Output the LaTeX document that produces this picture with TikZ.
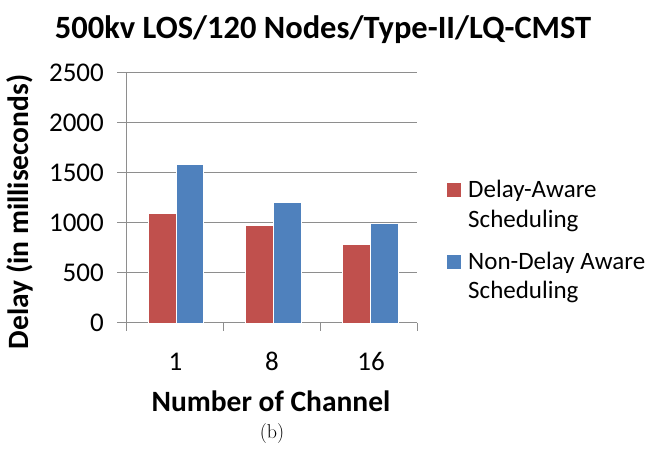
\documentclass[tikz,border=0pt]{standalone}
\usepackage{fontspec}
\newfontfamily\chartfont{Carlito}
\usetikzlibrary{positioning}
\definecolor{delayred}{HTML}{C0504D}
\definecolor{nodelayblue}{HTML}{4F81BD}
\definecolor{gridgray}{HTML}{8E8E8E}

\begin{document}
\begin{tikzpicture}[
    x=1pt, y=-1pt,
    bar/.style={draw=white, line width=0.3pt},
    gridline/.style={draw=gridgray, line width=0.9pt},
    ticklabel/.style={font=\chartfont\fontsize{27}{30}\selectfont, anchor=east, inner sep=0pt},
    catlabel/.style={font=\chartfont\fontsize{27}{30}\selectfont, inner sep=0pt},
    axislabel/.style={font=\chartfont\bfseries\fontsize{29.5}{33}\selectfont, inner sep=0pt},
    legendtext/.style={font=\chartfont\fontsize{25}{29.5}\selectfont, align=left, anchor=west, inner sep=0pt},
    legendkey/.style={minimum size=14pt, inner sep=0pt}
]
\useasboundingbox (0,0) rectangle (652,453);

% Title
\node[font=\chartfont\bfseries\fontsize{32.5}{36}\selectfont, inner sep=0pt] (title) at (323, 30) {500kv LOS/120 Nodes/Type-II/LQ-CMST};

% Grid lines and axes
\draw[gridline] (117, 72.7) -- (417, 72.7);
\draw[gridline] (117, 122.7) -- (417, 122.7);
\draw[gridline] (117, 172.7) -- (417, 172.7);
\draw[gridline] (117, 222.7) -- (417, 222.7);
\draw[gridline] (117, 272.7) -- (417, 272.7);
\draw[gridline] (117, 322.7) -- (417, 322.7);
\draw[gridline] (126.7, 72.7) -- (126.7, 331);
\draw[gridline] (223.3, 322.7) -- (223.3, 331);
\draw[gridline] (320.7, 322.7) -- (320.7, 331);
\draw[gridline] (417, 322.7) -- (417, 331);

% Bars
\filldraw[bar, fill=delayred] (147.7, 322.7) rectangle (175.7, 212.7);
\filldraw[bar, fill=nodelayblue] (175.7, 322.7) rectangle (203.3, 163.7);
\filldraw[bar, fill=delayred] (245, 322.7) rectangle (272.7, 224.7);
\filldraw[bar, fill=nodelayblue] (272.7, 322.7) rectangle (300.7, 201.7);
\filldraw[bar, fill=delayred] (342.3, 322.7) rectangle (370, 243.7);
\filldraw[bar, fill=nodelayblue] (370, 322.7) rectangle (397.7, 222.7);

% Tick labels
\node[ticklabel] (y2500) at (104, 72.7) {2500};
\node[ticklabel] (y2000) at (104, 122.7) {2000};
\node[ticklabel] (y1500) at (104, 172.7) {1500};
\node[ticklabel] (y1000) at (104, 222.7) {1000};
\node[ticklabel] (y500) at (104, 272.7) {500};
\node[ticklabel] (y0) at (104, 322.7) {0};
\node[catlabel] (x1) at (175.5, 361.7) {1};
\node[catlabel] (x8) at (272, 361.7) {8};
\node[catlabel] (x16) at (371, 361.7) {16};

% Axis titles
\node[axislabel] (xtitle) at (271, 401.7) {Number of Channel};
\node[axislabel, rotate=90] (ytitle) at (20, 212) {Delay (in milliseconds)};

% Legend
\node[legendkey, fill=delayred] (redkey) at (453.5, 190) {};
\node[legendtext] (redtext) at (468, 206) {Delay-Aware\\Scheduling};
\node[legendkey, fill=nodelayblue] (bluekey) at (453.5, 262) {};
\node[legendtext] (bluetext) at (468, 277.5) {Non-Delay Aware\\Scheduling};

% Caption
\node[font=\fontsize{20}{23}\selectfont, inner sep=0pt] (caption) at (272, 433) {(b)};

\end{tikzpicture}
\end{document}
